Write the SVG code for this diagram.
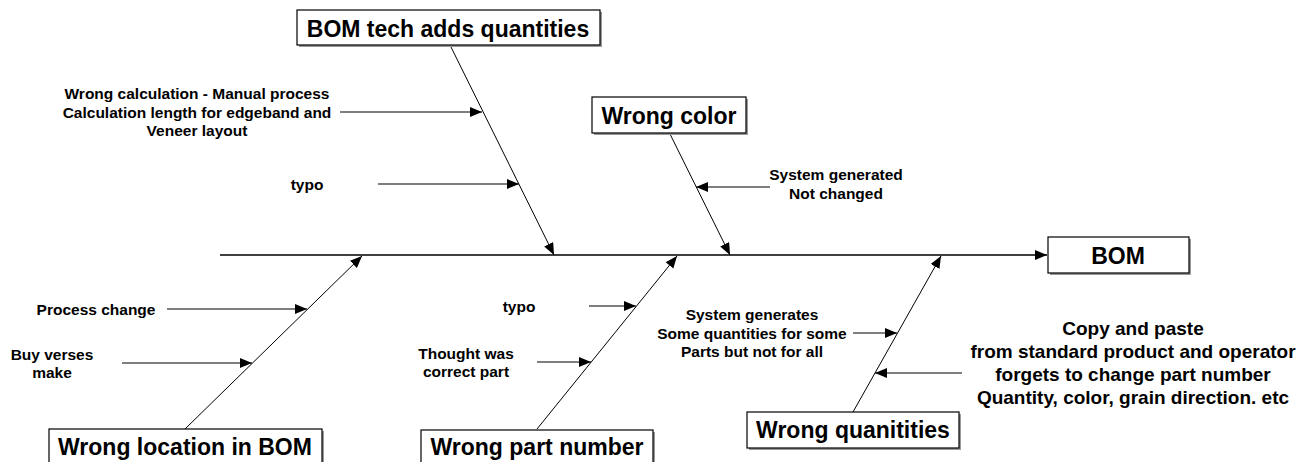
<svg xmlns="http://www.w3.org/2000/svg" width="1316" height="462" viewBox="0 0 1316 462">
  <style>
    .box { fill: #ffffff; stroke: #000000; stroke-width: 1.2; }
    .shadow { fill: #9a9a9a; }
    .title { font-family: "Liberation Sans", Arial, sans-serif; font-weight: bold; font-size: 23px; fill: #000; text-anchor: middle; dominant-baseline: central; }
    .label { font-family: "Liberation Sans", Arial, sans-serif; font-weight: bold; font-size: 15.5px; fill: #000; text-anchor: middle; dominant-baseline: central; }
    .note { font-family: "Liberation Sans", Arial, sans-serif; font-weight: bold; font-size: 19px; fill: #000; text-anchor: middle; dominant-baseline: central; }
    .spine { stroke: #000; stroke-width: 1.6; fill: none; }
    .bone { stroke: #000; stroke-width: 1; fill: none; }
    .cause { stroke: #000; stroke-width: 1.2; fill: none; }
  </style>
  <defs>
    <marker id="head" markerUnits="userSpaceOnUse" markerWidth="14" markerHeight="12" refX="12" refY="5" orient="auto">
      <path d="M0,0 L12,5 L0,10 Z" fill="#000"/>
    </marker>
  </defs>

  <!-- connectors: spine, main bones and cause arrows -->
  <g id="connectors">
    <line class="spine" x1="220" y1="255" x2="1047" y2="255" marker-end="url(#head)"/>

    <line class="bone" x1="450" y1="45" x2="554" y2="255" marker-end="url(#head)"/>
    <line class="bone" x1="670" y1="134" x2="730" y2="255" marker-end="url(#head)"/>
    <line class="bone" x1="185" y1="429" x2="362" y2="256" marker-end="url(#head)"/>
    <line class="bone" x1="537" y1="429" x2="677" y2="256" marker-end="url(#head)"/>
    <line class="bone" x1="853" y1="412" x2="941" y2="256" marker-end="url(#head)"/>

    <line class="cause" x1="340" y1="112" x2="482" y2="112" marker-end="url(#head)"/>
    <line class="cause" x1="378" y1="184" x2="519" y2="184" marker-end="url(#head)"/>
    <line class="cause" x1="770" y1="187" x2="696" y2="187" marker-end="url(#head)"/>
    <line class="cause" x1="167" y1="309" x2="307" y2="309" marker-end="url(#head)"/>
    <line class="cause" x1="122" y1="363" x2="252" y2="363" marker-end="url(#head)"/>
    <line class="cause" x1="589" y1="306" x2="636" y2="306" marker-end="url(#head)"/>
    <line class="cause" x1="537" y1="362" x2="591" y2="362" marker-end="url(#head)"/>
    <line class="cause" x1="853" y1="333" x2="897" y2="333" marker-end="url(#head)"/>
    <line class="cause" x1="962" y1="373" x2="875" y2="373" marker-end="url(#head)"/>
  </g>

  <!-- effect -->
  <g id="bom">
    <rect class="shadow" x="1050" y="239" width="141" height="36"/>
    <rect class="box" x="1048" y="237" width="141" height="36"/>
    <text class="title" x="1118" y="256">BOM</text>
  </g>

  <!-- categories -->
  <g id="bom-tech">
    <rect class="shadow" x="299" y="12" width="303" height="35"/>
    <rect class="box" x="297" y="10" width="303" height="35"/>
    <text class="title" x="448" y="29">BOM tech adds quantities</text>
  </g>
  <g id="wrong-color">
    <rect class="shadow" x="594" y="99" width="154" height="36"/>
    <rect class="box" x="592" y="97" width="154" height="36"/>
    <text class="title" x="669" y="116">Wrong color</text>
  </g>
  <g id="wrong-location">
    <rect class="shadow" x="51" y="431" width="273" height="40"/>
    <rect class="box" x="49" y="429" width="273" height="40"/>
    <text class="title" x="185" y="447">Wrong location in BOM</text>
  </g>
  <g id="wrong-part">
    <rect class="shadow" x="423" y="432" width="232" height="40"/>
    <rect class="box" x="421" y="430" width="232" height="40"/>
    <text class="title" x="537" y="447">Wrong part number</text>
  </g>
  <g id="wrong-quantities">
    <rect class="shadow" x="749" y="414" width="212" height="36"/>
    <rect class="box" x="747" y="412" width="212" height="36"/>
    <text class="title" x="853" y="430">Wrong quanitities</text>
  </g>

  <!-- causes -->
  <g id="cause-calculation">
    <text class="label" x="197" y="93">Wrong calculation - Manual process</text>
    <text class="label" x="197" y="112">Calculation length for edgeband and</text>
    <text class="label" x="197" y="130">Veneer layout</text>
  </g>
  <g id="cause-typo-tech">
    <text class="label" x="307" y="184">typo</text>
  </g>
  <g id="cause-system-color">
    <text class="label" x="836" y="174">System generated</text>
    <text class="label" x="836" y="193">Not changed</text>
  </g>
  <g id="cause-process">
    <text class="label" x="96" y="309">Process change</text>
  </g>
  <g id="cause-buy">
    <text class="label" x="52" y="354">Buy verses</text>
    <text class="label" x="52" y="372">make</text>
  </g>
  <g id="cause-typo-part">
    <text class="label" x="519" y="306">typo</text>
  </g>
  <g id="cause-thought">
    <text class="label" x="466" y="353">Thought was</text>
    <text class="label" x="466" y="371">correct part</text>
  </g>
  <g id="cause-system-qty">
    <text class="label" x="752" y="314">System generates</text>
    <text class="label" x="752" y="333">Some quantities for some</text>
    <text class="label" x="752" y="351">Parts but not for all</text>
  </g>
  <g id="cause-copy">
    <text class="note" x="1133" y="328">Copy and paste</text>
    <text class="note" x="1133" y="351">from standard product and operator</text>
    <text class="note" x="1133" y="374">forgets to change part number</text>
    <text class="note" x="1133" y="397">Quantity, color, grain direction. etc</text>
  </g>
</svg>
